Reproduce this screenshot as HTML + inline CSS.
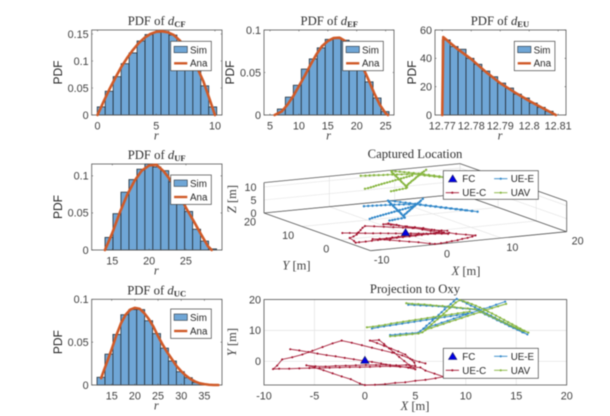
<!DOCTYPE html>
<html>
<head>
<meta charset="utf-8">
<title>PDF charts</title>
<style>
html,body{margin:0;padding:0;background:#fff;width:610px;height:416px;overflow:hidden}
svg{display:block;filter:blur(0.45px)}
.tick{font:10.8px "Liberation Sans",sans-serif;fill:#404040}
.ylab{font:12px "Liberation Sans",sans-serif;fill:#262626}
.ttl{font:12.7px "Liberation Serif",serif;fill:#303030}
.axl{font:12.5px "Liberation Serif",serif;fill:#404040}
.leg{font:9.8px "Liberation Sans",sans-serif;fill:#262626}
</style>
</head>
<body>
<svg id="fig" xmlns="http://www.w3.org/2000/svg" width="610" height="416" viewBox="0 0 610 416"></svg>
<script>
// ---- histogram data ----
const cfFirstEdge = -0.02, cfBinWidth = 0.678;
const cfHeights = [.015,.044,.071,.095,.115,.137,.149,.153,.155,.148,.13,.11,.085,.054,.015];
const cfCurveX = [0,.5,1,1.5,2,2.5,3,3.5,4,4.5,5,5.5,6,6.5,7,7.5,8,8.5,9,9.5,10];
const cfCurveY = [0,.024,.047,.068,.088,.105,.12,.133,.143,.15,.154,.155,.153,.148,.138,.125,.108,.087,.063,.032,0];
const cfXTicks = [0,5,10];
const cfYTicks = [0,.05,.1,.15];
const cfYLabels = ['0','0.05','0.1','0.15'];

const efFirstEdge = 6.27, efBinWidth = 1.38;
const efHeights = [.007,.021,.035,.054,.066,.079,.089,.091,.088,.075,.057,.039,.02,.004];
const efCurveX = [5.8,7,8,9,10,11,12,13,14,15,16,17,18,19,20,21,22,23,24,25,25.4];
const efCurveY = [0,.004,.012,.022,.034,.046,.059,.071,.081,.087,.0905,.091,.087,.08,.07,.057,.042,.026,.012,.002,0];
const efXTicks = [5,10,15,20,25];
const efYTicks = [0,.05,.1];
const efYLabels = ['0','0.05','0.1'];

const euFirstEdge = 12.77, euBinWidth = 0.002733;
const euHeights = [53,48.3,46.4,40,35.8,31,27,22.5,19,14.7,12,8.4,5.4,2.6];
const euCurveX = [12.77,12.77035,12.775,12.78,12.785,12.79,12.795,12.8,12.805,12.8092];
const euCurveY = [0,55,47,39.5,30.5,22.5,16,10,4.5,0];
const euXTicks = [12.77,12.78,12.79,12.8,12.81];
const euXLabels = ['12.77','12.78','12.79','12.8','12.81'];
const euYTicks = [0,20,40,60];
const euYLabels = ['0','20','40','60'];

const ufFirstEdge = 14.01, ufBinWidth = 1.082;
const ufHeights = [.017,.049,.078,.095,.109,.116,.112,.107,.092,.072,.052,.028,.012,.0015];
const ufCurveX = [14,15,16,17,18,19,20,21,22,23,24,25,26,27,28,28.5];
const ufCurveY = [0,.023,.05,.074,.093,.107,.114,.115,.106,.093,.077,.057,.04,.022,.005,0];
const ufXTicks = [15,20,25];
const ufYTicks = [0,.05,.1];
const ufYLabels = ['0','0.05','0.1'];

const ucFirstEdge = 11.83, ucBinWidth = 1.713;
const ucHeights = [.009,.036,.059,.082,.088,.088,.075,.06,.043,.028,.0155,.0085,.003,.0008,.0003];
const ucCurveX = [12.7,14,15,16,17,18,19,20,21,22,23,24,25,26,27,28,29,30,31,32,33,34,35,36,37,38];
const ucCurveY = [.008,.027,.042,.058,.072,.082,.088,.09,.089,.084,.077,.068,.057,.047,.038,.03,.022,.016,.011,.007,.004,.002,.001,.0003,0,0];
const ucXTicks = [15,20,25,30,35];
const ucYTicks = [0,.05,.1];
const ucYLabels = ['0','0.05','0.1'];

// ---- trajectory data (null = gap) ----
const fcX = [0];
const fcY = [0];
const ueCX = [-7.4,-6.5,-5.6,-4.7,-3.8,-2.9,-2,-1.1,-.2,.7,1.6,2.5,3.4,4.3,5,4.4,3.9,3.4,2.9,2.4,1.9,1.4,.5,1.2,1.9,2.6,3.3,4,4.5,4.9,5,4.1,3.1,2.1,1.1,.1,-.9,-1.9,-2.9,-3.9,-4.9,-5.8,-5,-4.1,-3.2,-2.3,-1.4,-.5,0,1,2,3,4,5,6,7,7.8,6.9,6,5.5,4.5,3.5,2.5,1.5,.5,-.5,-1.5,-2.5,-3.5,-4.5,-5.5,-6.5,-7.5,-8.5,-9.1,-8.7,-8.2,-7.2,-6.2,-5.2,-4.2,-3.2,-2.3,-1.3,-.3,.7,1.7,2.7,3.7,4.7,5.4,6];
const ueCY = [3.9,3.5,3,2.5,2,1.6,1.1,.65,.2,-.2,-.7,-1.2,-1.6,-2.1,-2.6,-1.2,.1,1.4,2.8,4.2,5.6,6.9,6.7,5.9,5,4.1,3.2,2.2,.8,-.4,-1.5,-1.2,-1.3,-1.1,-1.2,-1.2,-1.3,-1.4,-1.5,-1.7,-1.6,-1.3,-2,-2.9,-3.9,-4.9,-5.8,-7.2,-7.7,-7.6,-7.4,-7,-6.8,-6.3,-6,-5.5,-5,-4,-3,-2,-1.9,-1.8,-1.6,-1.7,-1.8,-1.9,-1.9,-2,-2.1,-2.2,-2.2,-2.3,-2.4,-2.4,-2.5,-1.4,.6,1.3,2.2,3.4,4.6,5.8,6.7,6,5.2,4.4,3.6,2.8,1.9,.5,-.2,-.7];
const ueEX = [4.3,4.9,5.5,6.1,6.7,7.3,7.9,8.5,9.1,9.7,10.4,11.1,11.5,11.9,12.3,12.7,13.1,13.5,13.9,14.3,14.7,15.1,15.6,16.1,15.7,15.3,14.9,14.5,14.1,13.7,13.3,12.9,12.5,12.1,11.7,11.3,10.9,10.5,10.1,9.7,9.1,8.8,8.5,8.2,7.9,7.6,7.3,7,6.7,6.4,6.1,5.8,5.5,5.3,4.7,4.1,3.5,3,2.5,null,.7,1.3,1.9,2.5,3.1,3.7,4.3,4.9,5.5,6.1,6.7,7.3,7.9,8.5,9.1,9.7,10.2,null,5.8,6.4,7,7.6,8.2,8.8,9.4,10,10.6,11.2,11.8,12.4,13,13.9];
const ueEY = [18.3,18.2,18.1,18,17.9,17.8,17.6,17.5,17.3,17.1,16.9,16.6,15.9,15.2,14.6,14,13.3,12.7,12.1,11.4,10.8,10.2,9.4,8.7,9.4,10.1,10.8,11.4,12.1,12.8,13.4,14.1,14.8,15.4,16.1,16.8,17.5,18,18.7,19.4,20.2,19.4,18.5,17.7,16.8,15.9,15,14.1,13.2,12.3,11.5,10.6,9.8,9.3,9.1,9,8.8,8.6,8.5,null,10.6,11,11.3,11.6,11.9,12.2,12.5,12.8,13.1,13.4,13.7,14,14.3,14.6,14.9,15.2,15.5,null,10.5,11.2,11.8,12.5,13.1,13.8,14.4,15.1,15.7,16.4,17,17.6,18.3,19.3];
const uavX = [4.1,4.7,5.3,5.9,6.5,7.1,7.7,8.3,8.9,9.5,10.2,10.9,11.5,11.9,12.3,12.7,13.1,13.5,13.9,14.3,14.7,15.1,15.6,16.2,15.8,15.4,15,14.6,14.2,13.8,13.4,13,12.6,12.2,11.8,11.4,11,10.6,10.2,9.8,9.4,9,8.7,8.4,8.1,7.8,7.5,7.2,6.9,6.6,6.3,6,5.7,5.3,4.7,4.1,3.5,3,2.5,null,.2,.8,1.4,2,2.6,3.2,3.8,4.4,5,5.6,6.2,6.8,7.4,8,8.6,9.2,9.8,10.4,null,6,6.6,7.2,7.8,8.4,9,9.6,10.2,10.8,11.4,12,12.6,13.2,14];
const uavY = [18.8,18.6,18.5,18.4,18.2,18,17.9,17.7,17.5,17.3,17.1,16.9,16,15.4,14.8,14.2,13.6,13,12.4,11.8,11.2,10.6,9.9,9.3,9.9,10.6,11.3,12,12.7,13.4,14.1,14.8,15.5,16.1,16.8,17.4,18,18.5,19,19.4,19.8,19,18.1,17.2,16.3,15.4,14.5,13.6,12.8,11.9,11,10.1,9.4,9,8.8,8.6,8.4,8.2,8.1,null,11,11.2,11.5,11.8,12.2,12.5,12.8,13.1,13.4,13.7,14,14.3,14.6,14.9,15.2,15.5,15.8,16.1,null,10.2,10.8,11.5,12.1,12.8,13.4,14,14.7,15.3,15.9,16.6,17.2,17.8,18.6];
const ueCZ = 0, ueEZ = 0, uavZ = 11.5, fcZ = 0;
const p3XTicks = [-10,0,10,20];
const p3YTicks = [0,10,20];
const p3ZTicks = [0,5,10];
const p2XTicks = [-10,-5,0,5,10,15,20];
const p2YTicks = [0,10,20];

// ---- drawing ----
const NS = 'http://www.w3.org/2000/svg';
const fig = document.getElementById('fig');
const AX = '#555', BAR = '#6fa6d6', BAREDGE = '#25303a', ANA = '#d05a28';
const RED = '#a2142f', BLUE = '#2f86c8', GREEN = '#86b53e';

function mk(parent, tag, attrs, text) {
  const e = document.createElementNS(NS, tag);
  for (const k in attrs) e.setAttribute(k, attrs[k]);
  if (text !== undefined) e.textContent = text;
  parent.appendChild(e);
  return e;
}
function linear(d0, d1, r0, r1) { return v => r0 + (v - d0) * (r1 - r0) / (d1 - d0); }

function title(parent, cx, y, plain, sub) {
  const t = mk(parent, 'text', {x: cx, y: y, 'text-anchor': 'middle', 'class': 'ttl'});
  
  
  mk(t, 'tspan', {}, plain);
  if (sub) {
    mk(t, 'tspan', {'font-style': 'italic'}, 'd');
    mk(t, 'tspan', {'font-weight': 'bold', 'font-size': '8.6px', dy: '2'}, sub);
  }
  return t;
}

function histLegend(parent, lx, ly) {
  const g = mk(parent, 'g', {});
  
  
  mk(g, 'rect', {x: lx, y: ly, width: 40.6, height: 29.4, fill: '#fff', stroke: '#444', 'stroke-width': .7});
  const patch = mk(g, 'rect', {x: lx + 3.4, y: ly + 5, width: 13.2, height: 6.4, fill: BAR, stroke: BAREDGE, 'stroke-width': .6});
  
  
  const t1 = mk(g, 'text', {x: lx + 19.3, y: ly + 12, 'class': 'leg'}, 'Sim');
  
  
  const ln = mk(g, 'line', {x1: lx + 3.4, x2: lx + 16.6, y1: ly + 22, y2: ly + 22, stroke: ANA, 'stroke-width': 2.4});
  
  
  const t2 = mk(g, 'text', {x: lx + 19.3, y: ly + 25.4, 'class': 'leg'}, 'Ana');
  
  
}

function frame(g, b) {
  const r = mk(g, 'rect', {x: b.x0, y: b.y0, width: b.x1 - b.x0, height: b.y1 - b.y0, fill: 'none', stroke: AX, 'stroke-width': .8});
  
  
}

function hist(o) {
  const g = mk(fig, 'g', {});
  
  
  const b = o.box;
  const sx = linear(o.xlim[0], o.xlim[1], b.x0, b.x1);
  const sy = linear(o.ylim[0], o.ylim[1], b.y1, b.y0);
  o.heights.forEach((h, i) => {
    const l = sx(o.first + i * o.width), r = sx(o.first + (i + 1) * o.width);
    const bar = mk(g, 'rect', {x: l, y: sy(h), width: r - l, height: b.y1 - sy(h), fill: BAR, stroke: BAREDGE, 'stroke-width': .8});
    
    
  });
  frame(g, b);
  o.xticks.forEach((v, i) => {
    const x = sx(v);
    mk(g, 'path', {d: `M${x} ${b.y1}v-1.4M${x} ${b.y0}v1.4`, stroke: AX, 'stroke-width': .6});
    const t = mk(g, 'text', {x: x, y: b.y1 + 14.6, 'text-anchor': 'middle', 'class': 'tick'}, o.xlabels ? o.xlabels[i] : String(v));
    
    
  });
  o.yticks.forEach((v, i) => {
    const y = sy(v);
    mk(g, 'path', {d: `M${b.x0} ${y}h1.4M${b.x1} ${y}h-1.4`, stroke: AX, 'stroke-width': .6});
    const t = mk(g, 'text', {x: b.x0 - 3, y: y + 3.8, 'text-anchor': 'end', 'class': 'tick'}, o.ylabels[i]);
    
    
  });
  const pts = o.cx.map((v, i) => sx(v) + ',' + sy(o.cy[i])).join(' ');
  const curve = mk(g, 'polyline', {points: pts, fill: 'none', stroke: ANA, 'stroke-width': 2.6, 'stroke-linejoin': 'round', 'stroke-linecap': 'round'});
  
  
  histLegend(g, o.leg[0], o.leg[1]);
  title(g, o.tx, b.y0 - 5, 'PDF of ', o.sub);
  const yl = mk(g, 'text', {x: 0, y: 0, 'text-anchor': 'middle', 'class': 'ylab', transform: `translate(${o.yl},${(b.y0 + b.y1) / 2})rotate(-90)`}, 'PDF');
  
  
  const xl = mk(g, 'text', {x: (b.x0 + b.x1) / 2 - 0.5, y: b.y1 + 24.5, 'text-anchor': 'middle', 'class': 'axl'});
  
  
  mk(xl, 'tspan', {'font-style': 'italic'}, 'r');
}

hist({id:'cf',box:{x0:91.7,x1:222,y0:30,y1:115},xlim:[-.494,10.6],ylim:[0,.1574],first:cfFirstEdge,width:cfBinWidth,heights:cfHeights,cx:cfCurveX,cy:cfCurveY,xticks:cfXTicks,yticks:cfYTicks,ylabels:cfYLabels,leg:[170.7,41.3],tx:156.7,sub:'CF',yl:62});
hist({id:'ef',box:{x0:264,x1:394,y0:30,y1:115},xlim:[3.96,26.45],ylim:[0,.1],first:efFirstEdge,width:efBinWidth,heights:efHeights,cx:efCurveX,cy:efCurveY,xticks:efXTicks,yticks:efYTicks,ylabels:efYLabels,leg:[342.7,41.3],tx:329.3,sub:'EF',yl:234});
hist({id:'eu',box:{x0:435,x1:566,y0:30,y1:115},xlim:[12.7675,12.8127],ylim:[0,60],first:euFirstEdge,width:euBinWidth,heights:euHeights,cx:euCurveX,cy:euCurveY,xticks:euXTicks,xlabels:euXLabels,yticks:euYTicks,ylabels:euYLabels,leg:[514.3,41.3],tx:500,sub:'EU',yl:416});
hist({id:'uf',box:{x0:91.7,x1:222,y0:164,y1:250},xlim:[12.2,29.9],ylim:[0,.116],first:ufFirstEdge,width:ufBinWidth,heights:ufHeights,cx:ufCurveX,cy:ufCurveY,xticks:ufXTicks,yticks:ufYTicks,ylabels:ufYLabels,leg:[170.7,175],tx:156.7,sub:'UF',yl:62});
hist({id:'uc',box:{x0:91.7,x1:222,y0:299.3,y1:385},xlim:[10.68,38.8],ylim:[0,.1],first:ucFirstEdge,width:ucBinWidth,heights:ucHeights,cx:ucCurveX,cy:ucCurveY,xticks:ucXTicks,yticks:ucYTicks,ylabels:ucYLabels,leg:[170.7,309],tx:156.7,sub:'UC',yl:62});

function drawSeries(g, xs, ys, map, color, w, r, name) {
  let seg = [];
  const flush = () => {
    if (seg.length) {
      const pl = mk(g, 'polyline', {points: seg.join(' '), fill: 'none', stroke: color, 'stroke-width': w, 'stroke-opacity': .85});
      
      
    }
    seg = [];
  };
  xs.forEach((x, i) => {
    if (x === null) { flush(); return; }
    const p = map(x, ys[i]);
    seg.push(p[0] + ',' + p[1]);
  });
  flush();
  xs.forEach((x, i) => {
    if (x === null) return;
    const p = map(x, ys[i]);
    const c = mk(g, 'circle', {cx: p[0], cy: p[1], r: r, fill: color});
    
    
  });
}

function drawFC(g, p) {
  const tri = mk(g, 'polygon', {points: `${p[0]},${p[1] - 5} ${p[0] - 4.2},${p[1] + 2} ${p[0] + 4.2},${p[1] + 2}`, fill: '#0000e6', stroke: '#1a1a5c', 'stroke-width': .6});
  
  
}

function bigLegend(parent, lx, ly, h) {
  const g = mk(parent, 'g', {});
  
  
  mk(g, 'rect', {x: lx, y: ly, width: 95, height: h, fill: '#fff', stroke: '#444', 'stroke-width': .7});
  const y1 = ly + 8, y2 = ly + 22;
  drawFC(g, [lx + 9.4, y1 + 1.2]);
  const items = [
    ['FC', null, lx + 19, y1],
    ['UE-E', BLUE, lx + 67.4, y1],
    ['UE-C', RED, lx + 19, y2],
    ['UAV', GREEN, lx + 67.4, y2]
  ];
  items.forEach(it => {
    if (it[1]) {
      const sw = mk(g, 'path', {d: `M${it[2] - 16.6} ${it[3]}h13.3`, stroke: it[1], 'stroke-width': .9});
      
      
      mk(g, 'circle', {cx: it[2] - 10, cy: it[3], r: 1.1, fill: it[1]});
    }
    const t = mk(g, 'text', {x: it[2], y: it[3] + 3.5, 'class': 'leg'}, it[0]);
    
    
  });
}

// 3D chart
(function () {
  const g = mk(fig, 'g', {});
  
  
  const yMin = -8, yMax = 20, xMin = -10, xMax = 20, zMax = 11.7;
  const pr = (x, y, z) => [370.7 + 6.533 * (x - xMin) - 3.81 * (y - yMin), 250.7 - .633 * (x - xMin) - 1.346 * (y - yMin) - 2.6 * z];
  const seg = (a, b, color, w, name) => {
    const l = mk(g, 'line', {x1: a[0], y1: a[1], x2: b[0], y2: b[1], stroke: color, 'stroke-width': w});
    
    
  };
  const GR = '#e2e2e2';
  p3XTicks.forEach(x => {
    seg(pr(x, yMin, 0), pr(x, yMax, 0), GR, .6, 'grid-line');
    seg(pr(x, yMax, 0), pr(x, yMax, zMax), GR, .6, 'grid-line');
  });
  p3YTicks.forEach(y => {
    seg(pr(xMin, y, 0), pr(xMax, y, 0), GR, .6, 'grid-line');
    seg(pr(xMax, y, 0), pr(xMax, y, zMax), GR, .6, 'grid-line');
  });
  p3ZTicks.forEach(z => {
    seg(pr(xMin, yMax, z), pr(xMax, yMax, z), GR, .6, 'grid-line');
    seg(pr(xMax, yMax, z), pr(xMax, yMin, z), GR, .6, 'grid-line');
  });
  // box
  seg(pr(xMin, yMin, 0), pr(xMin, yMax, 0), AX, .8, 'y-axis-line');
  seg(pr(xMin, yMin, 0), pr(xMax, yMin, 0), AX, .8, 'x-axis-line');
  seg(pr(xMin, yMax, 0), pr(xMin, yMax, zMax), AX, .8, 'z-axis-line');
  seg(pr(xMin, yMax, zMax), pr(xMax, yMax, zMax), AX, .8, 'box-edge');
  seg(pr(xMax, yMax, zMax), pr(xMax, yMin, zMax), AX, .8, 'box-edge');
  seg(pr(xMax, yMin, zMax), pr(xMax, yMin, 0), AX, .8, 'box-edge');
  seg(pr(xMin, yMax, 0), pr(xMax, yMax, 0), AX, .8, 'box-edge');
  seg(pr(xMax, yMax, 0), pr(xMax, yMin, 0), AX, .8, 'box-edge');
  p3XTicks.forEach(v => {
    const p = pr(v, yMin, 0);
    const t = mk(g, 'text', {x: p[0] + 11, y: p[1] + 13, 'text-anchor': 'middle', 'class': 'tick'}, String(v));
    
    
  });
  p3YTicks.forEach(v => {
    const p = pr(xMin, v, 0);
    const t = mk(g, 'text', {x: p[0] - 14, y: p[1] + 12.5, 'text-anchor': 'middle', 'class': 'tick'}, String(v));
    
    
  });
  p3ZTicks.forEach(v => {
    const p = pr(xMin, yMax, v);
    const t = mk(g, 'text', {x: 256.5, y: p[1] + 3.8, 'text-anchor': 'end', 'class': 'tick'}, String(v));
    
    
  });
  drawSeries(g, ueCX, ueCY, (x, y) => pr(x, y, ueCZ), RED, 1, 1.05, 'ue-c-3d');
  drawSeries(g, ueEX, ueEY, (x, y) => pr(x, y, ueEZ), BLUE, 1.1, 1.2, 'ue-e-3d');
  drawSeries(g, uavX, uavY, (x, y) => pr(x, y, uavZ), GREEN, 1.1, 1.15, 'uav-3d');
  drawFC(g, pr(fcX[0], fcY[0], fcZ));
  bigLegend(g, 443.3, 170.7, 28.6);
  title(g, 415, 158, 'Captured Location');
  const xl = mk(g, 'text', {x: 466, y: 275, 'text-anchor': 'middle', 'class': 'axl'});
  
  
  mk(xl, 'tspan', {'font-style': 'italic'}, 'X');
  mk(xl, 'tspan', {}, ' [m]');
  const yl = mk(g, 'text', {x: 296.5, y: 269.5, 'text-anchor': 'middle', 'class': 'axl'});
  
  
  mk(yl, 'tspan', {'font-style': 'italic'}, 'Y');
  mk(yl, 'tspan', {}, ' [m]');
  const zl = mk(g, 'text', {x: 0, y: 0, 'text-anchor': 'middle', 'class': 'axl', transform: 'translate(236,199) rotate(-90)'});
  
  
  mk(zl, 'tspan', {'font-style': 'italic'}, 'Z');
  mk(zl, 'tspan', {}, ' [m]');
})();

// 2D projection
(function () {
  const g = mk(fig, 'g', {});
  
  
  const b = {x0: 264, x1: 566.7, y0: 299.5, y1: 385};
  const sx = linear(-10, 20, b.x0, b.x1);
  const sy = linear(-7.67, 20, b.y1, b.y0);
  p2XTicks.forEach(v => {
    const x = sx(v);
    const l = mk(g, 'line', {x1: x, x2: x, y1: b.y0, y2: b.y1, stroke: '#e2e2e2', 'stroke-width': .7});
    
    
    const t = mk(g, 'text', {x: x, y: b.y1 + 14.6, 'text-anchor': 'middle', 'class': 'tick'}, String(v));
    
    
  });
  p2YTicks.forEach(v => {
    const y = sy(v);
    const l = mk(g, 'line', {x1: b.x0, x2: b.x1, y1: y, y2: y, stroke: '#e2e2e2', 'stroke-width': .7});
    
    
    const t = mk(g, 'text', {x: b.x0 - 3, y: y + 3.8, 'text-anchor': 'end', 'class': 'tick'}, String(v));
    
    
  });
  frame(g, b);
  const m = (x, y) => [sx(x), sy(y)];
  drawSeries(g, ueCX, ueCY, m, RED, 1, 1.05, 'ue-c-2d');
  drawSeries(g, ueEX, ueEY, m, BLUE, 1.1, 1.1, 'ue-e-2d');
  drawSeries(g, uavX, uavY, m, GREEN, 1.3, 1.1, 'uav-2d');
  drawFC(g, m(fcX[0], fcY[0]));
  bigLegend(g, 443.3, 348.3, 30);
  title(g, 415, 293, 'Projection to Oxy');
  const xl = mk(g, 'text', {x: 415, y: 410, 'text-anchor': 'middle', 'class': 'axl'});
  
  
  mk(xl, 'tspan', {'font-style': 'italic'}, 'X');
  mk(xl, 'tspan', {}, ' [m]');
  const yl = mk(g, 'text', {x: 0, y: 0, 'text-anchor': 'middle', 'class': 'axl', transform: 'translate(236,342) rotate(-90)'});
  
  
  mk(yl, 'tspan', {'font-style': 'italic'}, 'Y');
  mk(yl, 'tspan', {}, ' [m]');
})();
</script>
</body>
</html>
